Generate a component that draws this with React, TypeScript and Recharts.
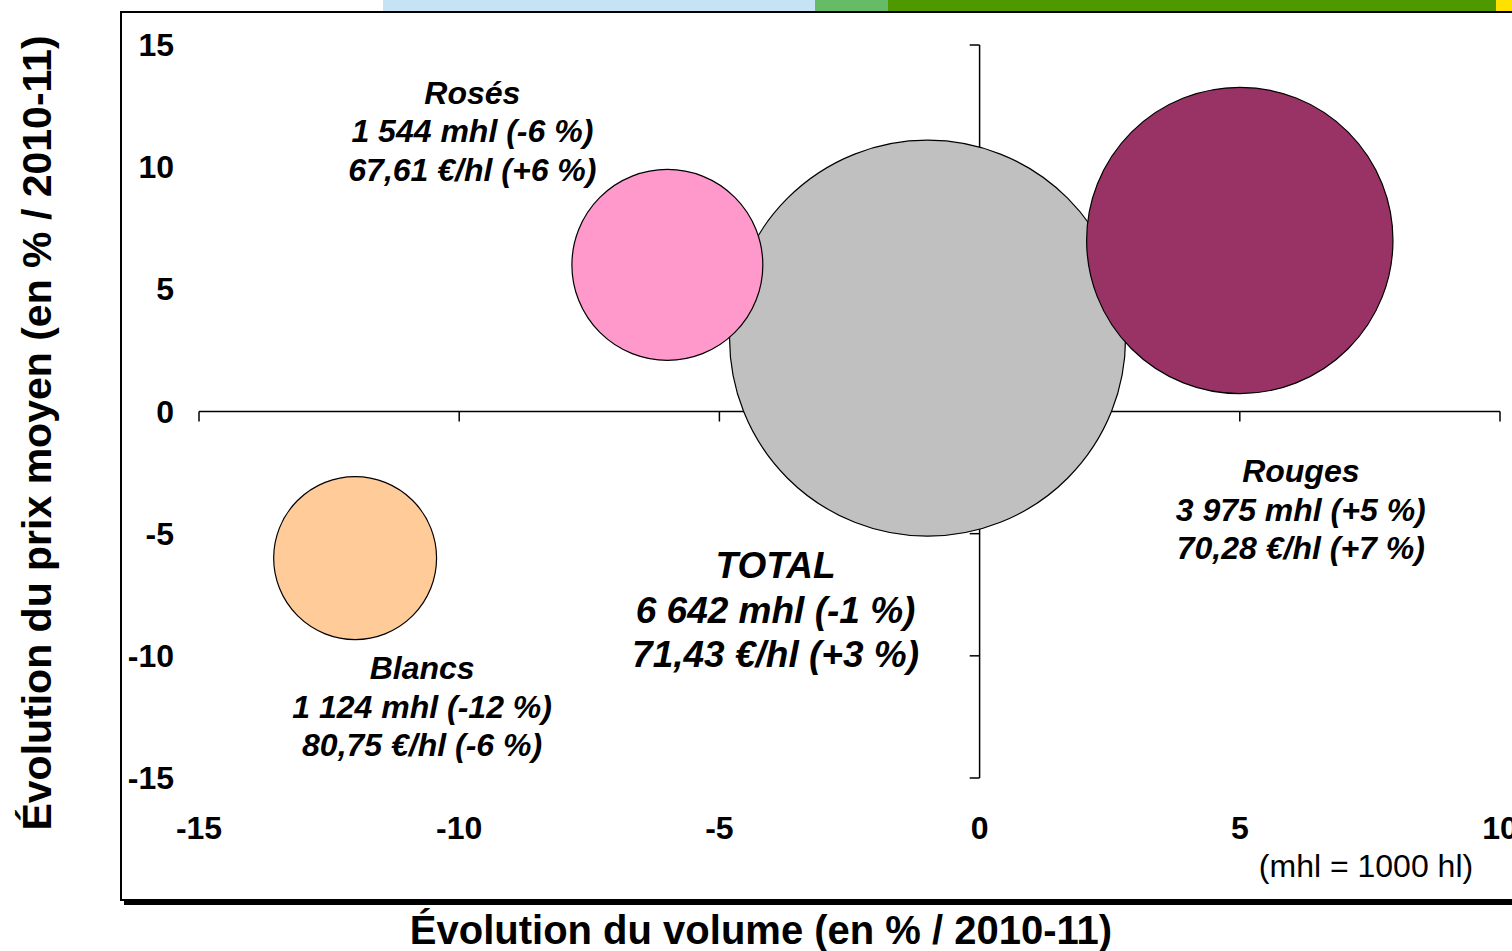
import React from 'react';
import { ScatterChart, Scatter, XAxis, YAxis, ZAxis, ReferenceLine } from 'recharts';

// ---- Data ----
const categories = ['TOTAL', 'Rosés', 'Rouges', 'Blancs'];
const volumeChange = [-1, -6, 5, -12]; // % vs 2010-11 (x)
const priceChange = [3, 6, 7, -6]; // % vs 2010-11 (y)
const volumes = [6642, 1544, 3975, 1124]; // mhl (bubble size)
const prices = [71.43, 67.61, 70.28, 80.75]; // €/hl

const xTicks = [-15, -10, -5, 0, 5, 10];
const yTicks = [-15, -10, -5, 0, 5, 10, 15];

// ---- Styles ----
const FONT = '"Liberation Sans", Arial, Helvetica, sans-serif';
const bubbleStyles: Record<string, any> = {
  TOTAL: { fill: '#C0C0C0', fontSize: 37, lineHeight: 44.5, dx: -152, dy: 240 },
  'Rosés': { fill: '#FF99CC', fontSize: 32, lineHeight: 38.5, dx: -195, dy: -161 },
  Rouges: { fill: '#993366', fontSize: 32, lineHeight: 38.5, dx: 61, dy: 242 },
  Blancs: { fill: '#FFCC99', fontSize: 32, lineHeight: 38.5, dx: 67, dy: 121 },
};

const fmtVolume = (v: number) => String(v).replace(/\B(?=(\d{3})+(?!\d))/g, ' ');
const fmtPct = (p: number) => `${p > 0 ? '+' : ''}${p} %`;
const fmtPrice = (p: number) => p.toFixed(2).replace('.', ',');

const series = categories.map((name, i) => ({
  name,
  data: [
    {
      name,
      x: volumeChange[i],
      y: priceChange[i],
      volume: volumes[i],
      price: prices[i],
    },
  ],
}));

const makeShape = (cat: string) => (props: any) => {
  const { cx, cy, width, size, payload } = props;
  const r = width != null && !isNaN(width) ? width / 2 : Math.sqrt(size / Math.PI);
  const st = bubbleStyles[cat];
  const lines = [
    payload.name,
    `${fmtVolume(payload.volume)} mhl (${fmtPct(payload.x)})`,
    `${fmtPrice(payload.price)} €/hl (${fmtPct(payload.y)})`,
  ];
  const tx = cx + st.dx;
  return (
    <g>
      <circle cx={cx} cy={cy} r={r} fill={st.fill} stroke="#000" strokeWidth={1.2} />
      <text
        x={tx}
        y={cy + st.dy}
        textAnchor="middle"
        fontFamily={FONT}
        fontSize={st.fontSize}
        fontWeight="bold"
        fontStyle="italic"
        fill="#000"
      >
        {lines.map((l, i) => (
          <tspan key={i} x={tx} dy={i === 0 ? 0 : st.lineHeight}>
            {l}
          </tspan>
        ))}
      </text>
    </g>
  );
};

const XTick = (props: any) => {
  const { x, y, payload } = props;
  return (
    <text x={x} y={y} dy={61} textAnchor="middle" fontFamily={FONT} fontSize={32} fontWeight="bold" fill="#000">
      {payload.value}
    </text>
  );
};

const YTick = (props: any) => {
  const { x, y, payload } = props;
  return (
    <text x={x} y={y} dy={11} textAnchor="end" fontFamily={FONT} fontSize={32} fontWeight="bold" fill="#000">
      {payload.value}
    </text>
  );
};

export default function App() {
  return (
    <div style={{ position: 'absolute', left: 0, top: 0, width: 1512, height: 951, overflow: 'hidden', background: '#fff' }}>
      <svg width={1512} height={951} style={{ position: 'absolute', left: 0, top: 0 }}>
        <rect x={383} y={0} width={432} height={11} fill="#C6E3F6" />
        <rect x={815} y={0} width={73} height={11} fill="#66BB66" />
        <rect x={888} y={0} width={608} height={11} fill="#4E9900" />
        <rect x={1496} y={0} width={16} height={11} fill="#FFE100" />
        <rect x={121} y={12} width={1400} height={888} fill="none" stroke="#000" strokeWidth={2} />
        <rect x={124} y={901} width={1400} height={4} fill="#000" />
        <text
          transform="translate(51, 433) rotate(-90)"
          textAnchor="middle"
          fontFamily={FONT}
          fontSize={41}
          fontWeight="bold"
          fill="#000"
        >
          Évolution du prix moyen (en % / 2010-11)
        </text>
        <text x={761} y={944} textAnchor="middle" fontFamily={FONT} fontSize={40} fontWeight="bold" fill="#000">
          Évolution du volume (en % / 2010-11)
        </text>
        <text x={1366} y={877} textAnchor="middle" fontFamily={FONT} fontSize={32} fill="#000">
          (mhl = 1000 hl)
        </text>
      </svg>
      <div style={{ position: 'absolute', left: 0, top: 0 }}>
        <ScatterChart width={1512} height={951} margin={{ top: 45, right: 12, bottom: 113, left: 121 }}>
          <XAxis
            type="number"
            dataKey="x"
            domain={[-15, 10]}
            ticks={xTicks}
            interval={0}
            axisLine={false}
            tickLine={false}
            tickSize={0}
            tickMargin={0}
            height={60}
            tick={<XTick />}
            allowDataOverflow
          />
          <YAxis
            type="number"
            dataKey="y"
            domain={[-15, 15]}
            ticks={yTicks}
            interval={0}
            axisLine={false}
            tickLine={false}
            tickSize={0}
            tickMargin={25}
            width={78}
            tick={<YTick />}
            allowDataOverflow
          />
          <ZAxis type="number" dataKey="volume" domain={[0, 6642]} range={[0, Math.PI * 198 * 198]} />
          <ReferenceLine y={0} stroke="#000" strokeWidth={1.5} />
          <ReferenceLine x={0} stroke="#000" strokeWidth={1.5} />
          {xTicks.map((t) => (
            <ReferenceLine
              key={`xt${t}`}
              segment={[
                { x: t, y: 0 },
                { x: t, y: -0.41 },
              ]}
              stroke="#000"
              strokeWidth={1.5}
            />
          ))}
          {yTicks.map((t) => (
            <ReferenceLine
              key={`yt${t}`}
              segment={[
                { x: -0.19, y: t },
                { x: 0, y: t },
              ]}
              stroke="#000"
              strokeWidth={1.5}
            />
          ))}
          {series.map((s) => (
            <Scatter
              key={s.name}
              name={s.name}
              data={s.data}
              shape={makeShape(s.name)}
              isAnimationActive={false}
            />
          ))}
        </ScatterChart>
      </div>
    </div>
  );
}
